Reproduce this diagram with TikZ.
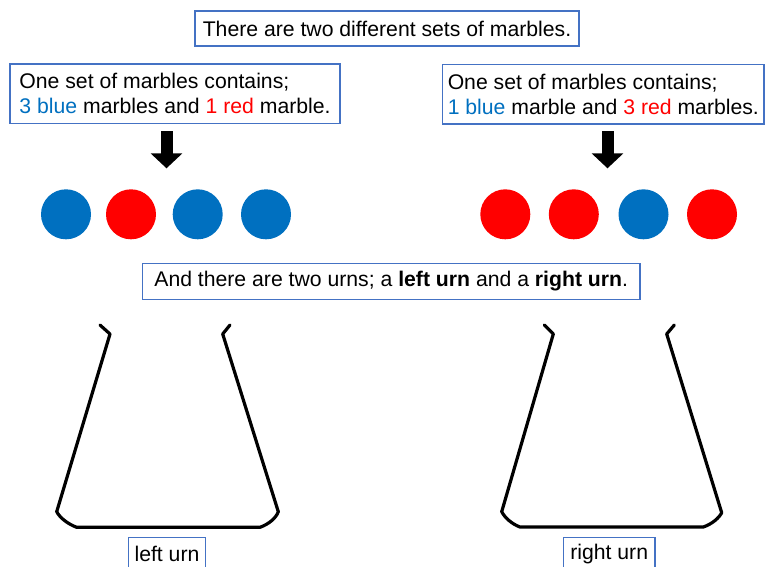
\documentclass[tikz,border=0pt]{standalone}
\usepackage{fontspec}
\setmainfont{Liberation Sans}
\usetikzlibrary{arrows.meta}
\definecolor{boxblue}{HTML}{4472C4}
\definecolor{mblue}{HTML}{0070C0}
\definecolor{mred}{HTML}{FF0000}
\begin{document}
\begin{tikzpicture}[x=1pt,y=-1pt,
  txtbox/.style={draw=boxblue,line width=1.3pt,inner sep=0pt,align=left,
    font=\fontsize{21.2}{25}\selectfont},
  marble/.style={circle,minimum size=50pt,inner sep=0pt},
  bluem/.style={marble,fill=mblue},
  redm/.style={marble,fill=mred},
  urn/.style={line width=3.2pt,line join=round,line cap=round},
  bigarrow/.style={line width=12pt,-{Triangle[width=31pt,length=15pt]}}]
\useasboundingbox (0,0) rectangle (765,566);
\fill[white] (0,0) rectangle (765,566);

% text boxes
\node[txtbox,minimum width=384pt,minimum height=35pt] (top) at (387,28.5)
  {There are two different sets of marbles.};
\node[txtbox,minimum width=330pt,minimum height=59.5pt] (lbox) at (175,93.8)
  {One set of marbles contains;\\
   \textcolor{mblue}{3 blue} marbles and \textcolor{mred}{1 red} marble.};
\node[txtbox,minimum width=321.5pt,minimum height=59.7pt] (rbox) at (603.3,94.2)
  {One set of marbles contains;\\
   \textcolor{mblue}{1 blue} marble and \textcolor{mred}{3 red} marbles.};
\node[txtbox,minimum width=497.7pt,minimum height=36pt] (mid) at (391.2,281.3)
  {And there are two urns; a \textbf{left urn} and a \textbf{right urn}.};

% arrows
\coordinate (la1) at (166.5,131);
\coordinate (la2) at (166.5,168.3);
\coordinate (ra1) at (607.5,131);
\coordinate (ra2) at (607.5,168.3);
\draw[bigarrow] (la1) -- (la2);
\draw[bigarrow] (ra1) -- (ra2);

% marbles
\node[bluem] (m1) at (66,214.3) {};
\node[redm]  (m2) at (131,214.3) {};
\node[bluem] (m3) at (197.7,214.3) {};
\node[bluem] (m4) at (266,214.3) {};
\node[redm]  (n1) at (505.3,214.3) {};
\node[redm]  (n2) at (573.8,214.3) {};
\node[bluem] (n3) at (643.5,214.3) {};
\node[redm]  (n4) at (712,214.3) {};

% urns
\draw[urn] (100,325) -- (110,334) -- (56.7,511.7)
  .. controls (60,518) and (68,524) .. (76.7,527.3) -- (260,527.3)
  .. controls (269,524) and (276,518) .. (278.3,511.7)
  -- (222.7,334) -- (230,325);
\draw[urn] (544.3,325) -- (553.3,334) -- (501.7,511.7)
  .. controls (505,518) and (512,524) .. (520,527) -- (703.3,527)
  .. controls (712,524) and (719,518) .. (721.7,512.7)
  -- (666.7,334) -- (674.3,325);

% urn labels
\node[txtbox,anchor=north,minimum width=77.4pt,minimum height=34pt] (ll) at (167,536.7) {left urn};
\node[txtbox,anchor=north,minimum width=91.7pt,minimum height=34pt] (rl) at (609.2,536.7) {right urn};
\end{tikzpicture}
\end{document}
